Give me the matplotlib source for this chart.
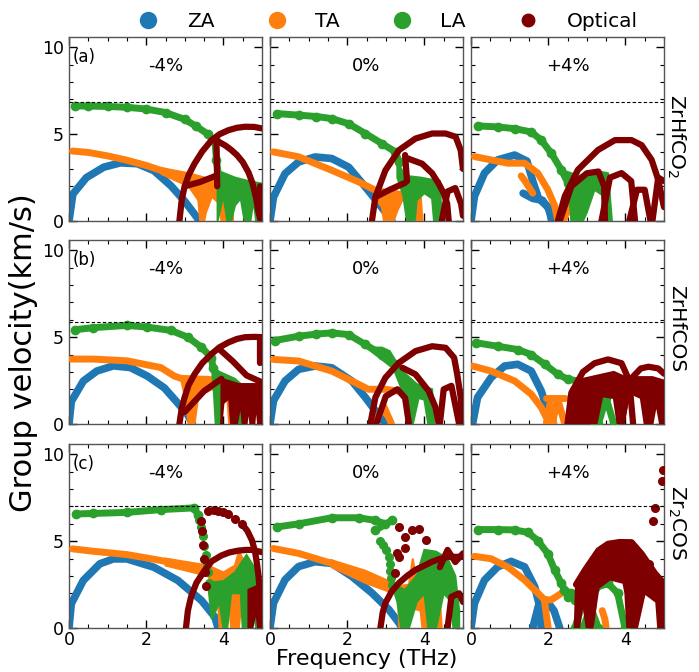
import matplotlib
matplotlib.use("Agg")
import matplotlib.pyplot as plt
from matplotlib.lines import Line2D
from matplotlib.ticker import MultipleLocator

# ---------------- data (frequency THz, group velocity km/s) ----------------
MODES = ["ZA", "TA", "LA", "Optical"]
COLORS = ["#1f77b4", "#ff7f0e", "#2ca02c", "#7f0000"]
STRAINS = ["-4%", "0%", "+4%"]
MATERIALS = ["ZrHfCO$_2$", "ZrHfCOS", "Zr$_2$COS"]
ROW_TAGS = ["(a)", "(b)", "(c)"]
SOUND_LIMIT = [6.85, 5.85, 7.0]

# ---- ZrHfCO2, -4% ----
A_M4_ZA = [([0.0, 0.1, 0.45, 0.9, 1.33, 1.77, 2.2, 2.64, 2.99, 3.25, 3.38],
            [0.0, 1.55, 2.5, 3.1, 3.35, 3.3, 2.9, 2.03, 1.16, 0.4, 0.0])]
A_M4_TA = [([0.09, 0.5, 1.0, 1.5, 2.0, 2.4, 2.8, 3.1, 3.4],
            [4.03, 3.95, 3.75, 3.5, 3.2, 2.9, 2.65, 2.5, 2.35])]
A_M4_TA_FILL = [([2.4, 3.1, 3.6, 4.2, 4.25, 3.95, 3.9, 3.7, 3.55, 3.5, 3.4, 3.35, 3.1, 2.4],
                 [3.05, 2.75, 2.45, 2.2, 0.0, 0.0, 1.0, 1.4, 0.5, 0.0, 0.0, 1.2, 2.0, 2.7])]
A_M4_LA = [([0.15, 0.5, 1.0, 1.5, 2.0, 2.5, 3.0, 3.3, 3.6, 3.75],
            [6.63, 6.62, 6.6, 6.55, 6.45, 6.25, 5.85, 5.45, 5.0, 4.6]),
           ([3.78, 3.82, 3.88], [4.7, 3.5, 2.5])]
A_M4_LA_FILL = [([3.85, 4.3, 4.65, 5.0, 5.0, 4.85, 4.78, 4.7, 4.55, 4.45, 4.3, 4.2, 4.1, 4.0, 3.85],
                 [2.9, 2.5, 2.3, 2.15, 0.0, 0.0, 1.2, 0.0, 0.0, 1.3, 0.9, 0.0, 0.0, 1.5, 0.0])]
A_M4_OPT = [([2.86, 2.92, 2.99, 3.1, 3.25, 3.45, 3.69, 3.9, 4.13, 4.35, 4.56, 4.8, 5.0],
             [0.0, 1.2, 1.94, 2.65, 3.3, 4.0, 4.65, 5.0, 5.23, 5.37, 5.43, 5.42, 5.33]),
            ([3.85, 4.05, 4.2, 4.35, 4.5, 4.65, 4.75, 4.85, 4.9, 4.97],
             [4.6, 4.35, 4.1, 3.8, 3.4, 2.8, 2.2, 1.3, 0.6, 0.0]),
            ([3.82, 3.84], [4.6, 2.0]),
            ([3.0, 3.4, 3.8], [2.0, 2.25, 2.6]),
            ([4.95, 5.0], [2.0, 0.0])]

# ---- ZrHfCO2, 0% ----
A_0_ZA = [([0.0, 0.09, 0.39, 0.74, 1.17, 1.6, 2.04, 2.47, 2.82, 3.08, 3.16],
           [0.0, 1.38, 2.73, 3.4, 3.69, 3.6, 3.1, 1.96, 1.0, 0.23, 0.0])]
A_0_TA = [([0.09, 0.74, 1.6, 2.3, 2.73, 3.0], [3.98, 3.7, 2.92, 2.25, 1.77, 1.6])]
A_0_TA_FILL = [([2.7, 3.3, 3.9, 3.95, 3.8, 3.75, 3.45, 3.3, 3.2, 2.95, 2.9, 2.75],
                [1.9, 1.7, 1.55, 0.0, 0.0, 1.2, 1.3, 0.6, 0.0, 0.0, 0.8, 1.2])]
A_0_LA = [([0.17, 0.74, 1.2, 1.6, 2.04, 2.47, 2.9, 3.25, 3.35],
           [6.19, 6.1, 6.02, 5.9, 5.6, 5.04, 4.46, 3.98, 3.4])]
A_0_LA_FILL = [([3.3, 3.5, 3.9, 4.4, 4.45, 4.25, 4.2, 4.0, 3.8, 3.75, 3.55, 3.45, 3.3],
                [3.4, 2.6, 2.5, 2.3, 0.0, 0.0, 1.3, 1.6, 1.2, 0.0, 0.0, 1.5, 2.5])]
A_0_OPT = [([2.64, 2.73, 2.99, 3.34, 3.77, 4.2, 4.55, 4.81, 4.94, 5.0],
            [0.0, 1.38, 2.92, 4.08, 4.75, 5.04, 5.04, 4.85, 4.08, 3.0]),
           ([3.51, 3.94, 4.2, 4.37, 4.5, 4.59, 4.63], [3.65, 3.3, 2.75, 2.15, 1.6, 1.0, 0.0]),
           ([4.45, 4.6, 4.8, 4.95, 5.0], [0.0, 1.7, 1.9, 1.0, 0.3]),
           ([3.5, 3.55], [3.8, 2.3]),
           ([2.75, 3.1, 3.5], [1.4, 1.8, 2.2])]

# ---- ZrHfCO2, +4% ----
A_P4_ZA = [([0.0, 0.09, 0.35, 0.69, 1.13, 1.45, 1.6, 1.75, 2.0, 2.1],
            [0.0, 1.43, 2.76, 3.52, 3.8, 3.45, 2.3, 1.3, 0.8, 0.0]),
           ([1.35, 1.6, 1.85, 2.05, 2.1], [1.6, 1.3, 1.2, 0.6, 0.0])]
A_P4_TA = [([0.09, 0.52, 0.95, 1.39, 1.73, 1.99, 2.17, 2.25],
            [3.71, 3.52, 3.33, 3.33, 2.76, 1.8, 0.86, 0.0]),
           ([1.3, 1.4, 1.6], [2.6, 2.3, 1.6]),
           ([2.4, 2.55, 2.7], [0.0, 1.0, 0.0])]
A_P4_TA_FILL = []
A_P4_LA = [([0.17, 0.69, 1.13, 1.56, 1.82, 2.08, 2.34, 2.51, 2.69],
            [5.48, 5.42, 5.32, 5.13, 4.66, 3.9, 2.95, 2.19, 1.43])]
A_P4_LA_FILL = [([2.4, 2.8, 3.2, 3.55, 3.65, 3.45, 3.4, 3.2, 3.0, 2.9, 2.6, 2.55],
                 [2.9, 2.6, 2.9, 2.75, 0.0, 0.0, 1.5, 1.8, 0.5, 0.0, 0.0, 1.5])]
A_P4_OPT = [([2.25, 2.43, 2.77, 3.29, 3.73, 4.16, 4.42, 4.68, 4.85, 4.94, 5.0],
             [0.0, 1.43, 2.95, 4.09, 4.66, 4.66, 4.37, 3.52, 2.38, 1.43, 0.8]),
            ([2.3, 2.6, 3.0, 3.3, 3.45, 3.47], [0.0, 2.0, 2.75, 2.85, 2.0, 0.0]),
            ([3.38, 3.6, 3.9, 4.15, 4.25], [0.0, 2.5, 2.76, 2.3, 0.0]),
            ([4.1, 4.3, 4.5, 4.65], [0.0, 1.8, 1.8, 0.0]),
            ([4.7, 4.85, 5.0], [0.0, 2.5, 2.3])]

# ---- ZrHfCOS, -4% ----
B_M4_ZA = [([0.0, 0.06, 0.37, 0.72, 1.15, 1.59, 2.03, 2.47, 2.82, 3.08, 3.2],
            [0.0, 1.3, 2.47, 3.05, 3.35, 3.25, 2.76, 2.08, 1.2, 0.52, 0.0])]
B_M4_TA = [([0.06, 0.63, 1.5, 2.38, 2.73, 2.9, 3.6, 4.0],
            [3.74, 3.74, 3.64, 3.25, 2.76, 2.63, 2.57, 2.5])]
B_M4_TA_FILL = [([2.9, 4.2, 4.3, 4.15, 4.1, 3.7, 3.35, 3.25, 3.1, 3.0],
                 [2.6, 2.5, 0.0, 0.0, 1.6, 2.0, 1.6, 0.0, 0.0, 1.6])]
B_M4_LA = [([0.15, 0.63, 1.5, 2.03, 2.64, 3.08, 3.43, 3.69, 3.73],
            [5.43, 5.55, 5.68, 5.58, 5.39, 5.0, 4.42, 3.83, 3.25])]
B_M4_LA_FILL = [([3.7, 3.9, 4.3, 4.5, 4.55, 4.4, 4.3, 4.1, 3.95, 3.9, 3.8, 3.75],
                 [3.3, 3.0, 2.6, 2.2, 0.0, 0.0, 1.5, 1.8, 1.0, 0.0, 0.0, 2.0])]
B_M4_OPT = [([2.86, 2.92, 2.99, 3.1, 3.25, 3.45, 3.69, 3.9, 4.13, 4.35, 4.56, 4.8, 5.0],
             [0.0, 0.9, 1.5, 2.25, 2.86, 3.5, 4.03, 4.42, 4.7, 4.9, 5.0, 5.02, 5.0]),
            ([3.9, 4.25, 4.6, 5.0], [4.3, 3.6, 2.8, 2.4]),
            ([4.95, 4.95], [5.0, 3.5]),
            ([3.0, 3.5, 3.95], [0.7, 1.9, 2.6])]
B_M4_OPT_FILL = [([3.95, 4.4, 5.0, 5.0, 4.9, 4.85, 4.8, 4.7, 4.65, 4.6, 4.5, 4.45, 4.35, 4.2, 4.15, 4.0, 3.95],
                  [2.6, 2.3, 2.3, 0.0, 0.0, 1.2, 0.0, 0.0, 1.0, 0.0, 0.0, 1.2, 0.0, 0.0, 1.5, 1.2, 0.0])]

# ---- ZrHfCOS, 0% ----
B_0_ZA = [([0.0, 0.09, 0.39, 0.74, 1.17, 1.6, 2.12, 2.47, 2.73, 2.99],
           [0.0, 1.34, 2.48, 3.15, 3.34, 3.24, 2.48, 1.53, 0.76, 0.0])]
B_0_TA = [([0.09, 0.74, 1.6, 2.12, 2.55, 2.99, 3.3], [3.72, 3.63, 3.05, 2.48, 2.0, 2.0, 1.9]),
          ([2.7, 2.95, 3.15], [0.0, 1.0, 0.0])]
B_0_LA = [([0.13, 0.74, 1.2, 1.6, 2.04, 2.47, 2.9, 3.25], [4.81, 5.06, 5.18, 5.25, 5.15, 4.58, 4.0, 3.44])]
B_0_LA_FILL = [([3.1, 3.4, 3.8, 4.2, 4.25, 4.1, 4.0, 3.85, 3.7, 3.55, 3.45, 3.2, 2.5, 2.9],
                [4.2, 3.1, 2.3, 2.0, 0.0, 0.0, 1.4, 1.5, 0.0, 0.0, 1.8, 3.2, 4.4, 4.4])]
B_0_OPT = [([2.6, 2.73, 2.99, 3.34, 3.77, 4.2, 4.55, 4.77, 4.85, 4.94, 4.98],
            [0.0, 1.53, 2.67, 3.53, 4.2, 4.48, 4.39, 3.82, 2.86, 1.53, 0.0]),
           ([3.43, 3.77, 4.11, 4.29, 4.37], [3.24, 2.86, 1.9, 0.95, 0.0]),
           ([2.75, 3.0, 3.3, 3.5, 3.6], [0.0, 1.6, 2.0, 1.5, 0.0]),
           ([4.4, 4.5, 4.7, 4.9], [0.0, 2.0, 2.2, 0.0])]

# ---- ZrHfCOS, +4% ----
B_P4_ZA = [([0.04, 0.17, 0.52, 0.87, 1.21, 1.56, 1.82, 1.99, 2.08],
            [0.0, 1.53, 2.67, 3.34, 3.44, 3.05, 1.9, 0.76, 0.0])]
B_P4_TA = [([0.04, 0.52, 1.13, 1.56, 1.82, 1.95], [3.34, 3.05, 2.48, 1.72, 0.95, 0.38]),
           ([1.95, 2.05, 2.15], [0.0, 1.2, 0.0]),
           ([2.1, 2.25, 2.43], [0.0, 1.4, 0.0]),
           ([1.95, 2.43], [1.5, 1.5])]
B_P4_LA = [([0.13, 0.69, 1.21, 1.56, 1.91, 2.25, 2.51, 2.77],
            [4.68, 4.48, 4.29, 4.0, 3.44, 2.86, 2.58, 2.48]),
           ([2.77, 3.0, 3.1, 3.2], [2.48, 1.8, 0.8, 0.0]),
           ([3.3, 3.5, 3.7], [0.0, 1.5, 0.0])]
B_P4_OPT = [([2.5, 2.6, 2.9, 3.2, 3.55, 3.9, 4.1, 4.2], [0.0, 1.8, 3.0, 3.5, 3.72, 3.5, 2.5, 0.0]),
            ([3.9, 4.1, 4.4, 4.6, 4.85, 5.0], [0.0, 2.5, 3.2, 3.3, 3.2, 2.9])]
B_P4_OPT_FILL = [([2.5, 2.6, 2.9, 3.3, 3.7, 4.0, 4.3, 4.7, 5.0, 5.0, 4.9, 4.8, 4.7, 4.5, 4.4,
                   4.1, 3.95, 3.8, 3.7, 3.4, 3.25],
                  [0.0, 2.0, 2.6, 2.8, 3.0, 2.7, 2.7, 2.7, 2.5, 0.0, 0.0, 1.2, 0.0, 0.0, 1.5,
                   1.8, 0.0, 0.0, 1.5, 1.6, 0.0])]

# ---- Zr2COS, -4% ----
C_M4_ZA = [([0.0, 0.06, 0.37, 0.8, 1.15, 1.5, 2.2, 2.82, 3.43, 3.78, 3.86],
            [0.0, 1.4, 2.74, 3.7, 3.98, 3.98, 3.5, 2.74, 1.59, 0.63, 0.0])]
C_M4_TA = [([0.09, 0.63, 1.5, 2.38, 3.25, 3.6], [4.56, 4.42, 4.23, 3.89, 3.5, 3.31])]
C_M4_TA_FILL = [([2.5, 3.6, 3.6, 2.5], [4.0, 3.6, 3.0, 3.6]),
                ([3.6, 4.0, 4.3, 4.4, 4.6, 4.65, 4.5, 4.4, 4.2, 4.15, 4.0, 3.95, 3.9, 3.85, 3.6],
                 [3.6, 3.2, 3.6, 4.4, 3.6, 2.0, 2.2, 0.0, 0.0, 1.5, 1.0, 0.0, 0.0, 2.0, 3.0])]
C_M4_LA = [([0.19, 0.63, 1.5, 2.38, 3.25, 3.34], [6.57, 6.6, 6.66, 6.82, 6.92, 6.5])]
C_M4_LA_DOTS = ([3.38, 3.43, 3.48, 3.51, 3.55, 3.58, 3.6, 3.62], [6.2, 5.8, 5.3, 4.7, 4.2, 3.7, 3.2, 2.6])
C_M4_LA_FILL = [([3.6, 4.0, 4.3, 4.6, 4.8, 5.0, 5.0, 4.85, 4.8, 4.7, 4.5, 4.45, 4.2, 4.1, 4.0, 3.9, 3.7],
                 [2.6, 2.7, 3.2, 4.2, 3.5, 1.5, 0.0, 0.0, 1.0, 0.0, 0.0, 2.0, 2.0, 0.0, 0.0, 1.5, 0.5])]
C_M4_OPT = [([3.03, 3.08, 3.16, 3.3, 3.51, 3.7, 3.95, 4.15, 4.39, 4.6, 4.74, 5.0],
             [0.0, 1.0, 1.78, 2.6, 3.31, 3.85, 4.18, 4.35, 4.46, 4.5, 4.5, 4.37]),
            ([4.48, 4.62, 4.74, 4.82, 4.87, 4.91, 4.94, 4.96],
             [6.0, 5.6, 5.05, 4.4, 3.7, 3.0, 2.17, 0.0])]
C_M4_OPT_DOTS = ([3.43, 3.6, 3.75, 3.86, 4.0, 4.13, 4.3, 4.48, 3.45, 3.47, 3.5, 3.52, 3.55],
                 [6.19, 6.76, 6.8, 6.76, 6.7, 6.57, 6.3, 6.0, 5.6, 4.8, 4.0, 3.2, 2.4])
C_M4_OPT_FILL = [([4.65, 4.85, 5.0, 5.0, 4.9, 4.85, 4.75, 4.65],
                  [2.2, 2.4, 2.0, 0.0, 0.0, 1.0, 0.0, 0.0])]

# ---- Zr2COS, 0% ----
C_0_ZA = [([0.0, 0.09, 0.39, 0.74, 1.17, 1.6, 2.12, 2.64, 3.08, 3.34, 3.42],
           [0.0, 1.44, 2.78, 3.54, 3.82, 3.72, 2.97, 2.02, 1.06, 0.3, 0.0])]
C_0_TA = [([0.09, 0.74, 1.6, 2.47, 3.08], [4.58, 4.3, 3.72, 2.97, 2.4])]
C_0_TA_FILL = [([1.6, 2.47, 3.08, 3.08, 2.47, 1.6], [3.9, 3.3, 2.7, 2.1, 2.6, 3.5]),
               ([3.3, 3.6, 3.7, 3.8, 4.4, 4.45, 3.95, 3.9, 3.6, 3.5, 3.35],
                [2.4, 2.5, 4.0, 2.4, 1.6, 0.0, 0.0, 1.0, 1.2, 0.0, 0.0])]
C_0_LA = [([0.17, 0.74, 1.6, 2.3, 2.73, 2.99], [5.82, 6.0, 6.35, 6.35, 6.2, 6.0]),
          ([2.73, 3.16], [5.63, 6.2])]
C_0_LA_DOTS = ([2.85, 2.94, 3.0, 3.08, 3.1, 3.12, 3.14, 3.16], [5.0, 4.77, 4.5, 4.1, 3.7, 3.3, 2.9, 2.5])
C_0_LA_FILL = [([3.16, 3.5, 3.8, 4.0, 4.3, 4.6, 4.8, 4.9, 4.9, 4.75, 4.7, 4.5, 4.3, 4.1, 4.0,
                 3.8, 3.6, 3.4, 3.3],
                [2.5, 2.2, 3.0, 4.5, 4.4, 4.0, 3.0, 1.0, 0.0, 0.0, 1.5, 2.0, 0.0, 0.0, 2.0,
                 1.5, 0.0, 0.0, 1.5])]
C_0_OPT = [([2.86, 2.92, 2.99, 3.15, 3.34, 3.55, 3.77, 4.0, 4.2, 4.4, 4.63, 4.98],
            [0.0, 0.9, 1.44, 2.1, 2.59, 3.0, 3.35, 3.6, 3.82, 3.98, 4.1, 4.1]),
           ([4.4, 4.6, 4.8, 5.0], [3.5, 4.5, 3.8, 4.3]),
           ([4.6, 4.7, 4.9, 5.0], [0.0, 1.8, 2.0, 1.5])]
C_0_OPT_DOTS = ([3.34, 3.51, 3.68, 3.86, 4.03, 3.34, 3.25, 3.5, 3.3],
                [5.82, 5.25, 5.63, 5.72, 5.06, 4.1, 3.15, 4.6, 4.3])

# ---- Zr2COS, +4% ----
C_P4_ZA = [([0.0, 0.09, 0.35, 0.69, 1.04, 1.39, 1.65, 1.78, 1.82],
            [0.0, 1.43, 2.76, 3.52, 3.84, 3.52, 2.38, 1.24, 0.0]),
           ([1.6, 1.75, 1.95, 2.15, 2.3], [0.0, 1.3, 1.6, 1.0, 0.0])]
C_P4_TA = [([0.09, 0.52, 0.95, 1.39, 1.65, 1.91, 2.08, 2.34],
            [4.13, 3.99, 3.52, 2.76, 2.19, 1.62, 1.62, 2.0]),
           ([1.9, 1.95, 2.0], [1.6, 0.8, 0.0]),
           ([3.4, 3.47, 3.5], [1.0, 0.5, 0.0])]
C_P4_LA = [([0.17, 0.69, 1.13, 1.47, 1.73, 1.99, 2.17, 2.34, 2.51],
            [5.67, 5.67, 5.65, 5.51, 5.04, 4.28, 3.33, 2.57, 1.81]),
           ([2.4, 2.6, 2.7], [2.2, 2.0, 1.6]),
           ([2.69, 2.9, 3.2, 3.55, 3.8, 3.99], [0.0, 1.5, 2.3, 2.57, 2.0, 0.0]),
           ([2.9, 3.1, 3.3], [0.0, 1.2, 0.0])]
C_P4_OPT = [([2.72, 2.95, 3.3, 3.55, 3.85, 4.16, 4.42, 4.77, 5.0],
             [2.5, 3.33, 4.47, 4.85, 4.95, 4.94, 4.28, 3.14, 2.57])]
C_P4_OPT_FILL = [([2.69, 2.72, 2.95, 3.3, 3.55, 3.85, 4.16, 4.42, 4.77, 5.0, 5.0, 4.85, 4.8, 4.5,
                   4.3, 4.05, 4.0, 3.95, 3.6, 3.3, 3.15, 3.0, 2.9, 2.8],
                  [0.0, 2.5, 3.33, 4.47, 4.85, 4.95, 4.94, 4.28, 3.14, 2.57, 0.0, 0.0, 1.5, 2.0,
                   0.0, 0.0, 2.0, 2.6, 2.8, 2.3, 0.0, 0.0, 1.5, 0.0])]
C_P4_OPT_DOTS = ([4.98, 4.94, 4.77, 4.72, 4.6], [9.12, 8.46, 6.94, 6.18, 3.7])

# panel table: rows x cols -> strokes / fills / dots per mode
PANELS = [
    [(A_M4_ZA, A_M4_TA, A_M4_LA, A_M4_OPT), (A_0_ZA, A_0_TA, A_0_LA, A_0_OPT), (A_P4_ZA, A_P4_TA, A_P4_LA, A_P4_OPT)],
    [(B_M4_ZA, B_M4_TA, B_M4_LA, B_M4_OPT), (B_0_ZA, B_0_TA, B_0_LA, B_0_OPT), (B_P4_ZA, B_P4_TA, B_P4_LA, B_P4_OPT)],
    [(C_M4_ZA, C_M4_TA, C_M4_LA, C_M4_OPT), (C_0_ZA, C_0_TA, C_0_LA, C_0_OPT), (C_P4_ZA, C_P4_TA, C_P4_LA, C_P4_OPT)],
]
FILLS = [
    [([], A_M4_TA_FILL, A_M4_LA_FILL, []), ([], A_0_TA_FILL, A_0_LA_FILL, []), ([], A_P4_TA_FILL, A_P4_LA_FILL, [])],
    [([], B_M4_TA_FILL, B_M4_LA_FILL, B_M4_OPT_FILL), ([], [], B_0_LA_FILL, []), ([], [], [], B_P4_OPT_FILL)],
    [([], C_M4_TA_FILL, C_M4_LA_FILL, C_M4_OPT_FILL), ([], C_0_TA_FILL, C_0_LA_FILL, []), ([], [], [], C_P4_OPT_FILL)],
]
DOTS = [
    [(None, None, None, None)] * 3,
    [(None, None, None, None)] * 3,
    [(None, None, C_M4_LA_DOTS, C_M4_OPT_DOTS), (None, None, C_0_LA_DOTS, C_0_OPT_DOTS), (None, None, None, C_P4_OPT_DOTS)],
]

# ---------------- figure ----------------
plt.rcParams['font.family'] = ['DejaVu Sans']
fig = plt.figure(figsize=(6.99, 6.72), dpi=100)

col_left = [69 / 699, 270 / 699, 471 / 699]
ax_w = 193 / 699
row_bottom = [1 - 221 / 672, 1 - 424 / 672, 1 - 628 / 672]
ax_h = 184 / 672
mat_y = [0.46, 0.52, 0.57]

LW = [5.5, 5.0, 5.0, 4.5]

for r in range(3):
    for c in range(3):
        ax = fig.add_axes([col_left[c], row_bottom[r], ax_w, ax_h])
        strokes = PANELS[r][c]
        fills = FILLS[r][c]
        dots = DOTS[r][c]
        for m in range(4):
            col = COLORS[m]
            for poly in fills[m]:
                ax.fill(poly[0], poly[1], color=col, lw=1.5, zorder=2 + m)
            for (fx, vy) in strokes[m]:
                ax.plot(fx, vy, color=col, lw=LW[m], solid_capstyle='round',
                        solid_joinstyle='round', zorder=2 + m)
                if m == 2:
                    ax.plot(fx, vy, 'o', color=col, ms=6, zorder=2 + m)
            if dots[m] is not None:
                ax.plot(dots[m][0], dots[m][1], 'o', color=col, ms=5.5, ls='none', zorder=2 + m)
        ax.axhline(SOUND_LIMIT[r], color='black', lw=0.8, ls=(0, (3, 2)), zorder=10)
        ax.set_xlim(0, 5)
        ax.set_ylim(0, 10.6)
        ax.xaxis.set_major_locator(MultipleLocator(2))
        ax.xaxis.set_minor_locator(MultipleLocator(0.5))
        ax.yaxis.set_major_locator(MultipleLocator(5))
        ax.yaxis.set_minor_locator(MultipleLocator(1))
        ax.tick_params(which='both', direction='in', top=True, right=True, labelsize=12.5)
        ax.tick_params(which='major', length=5.5, width=1)
        ax.tick_params(which='minor', length=3, width=0.8)
        ax.tick_params(axis='x', pad=2)
        for s in ax.spines.values():
            s.set_color('#555555')
            s.set_linewidth(1.0)
        if c != 0:
            ax.tick_params(labelleft=False)
        if r != 2:
            ax.tick_params(labelbottom=False)
        ax.text(0.5, 0.84, STRAINS[c], transform=ax.transAxes, ha='center', va='center', fontsize=13)
        if c == 0:
            ax.text(0.02, 0.89, ROW_TAGS[r], transform=ax.transAxes, ha='left', va='center', fontsize=12)
        if c == 2:
            ax.text(1.065, mat_y[r], MATERIALS[r], transform=ax.transAxes, rotation=270,
                    ha='center', va='center', fontsize=14.5)

fig.text(0.034, 0.475, "Group velocity(km/s)", rotation=90, ha='center', va='center', fontsize=22)
fig.text(0.524, 0.0105, "Frequency (THz)", ha='center', va='baseline', fontsize=16)

handles = [Line2D([], [], marker='o', ls='none', color=COLORS[i], ms=(11.5 if i < 3 else 9))
           for i in range(4)]
fig.legend(handles, MODES, loc='center', bbox_to_anchor=(0.555, 0.968), ncol=4,
           frameon=False, fontsize=14.5, handlelength=1.0, handletextpad=1.4,
           columnspacing=2.6, borderaxespad=0, borderpad=0)

fig.savefig("out.png", dpi=100)
